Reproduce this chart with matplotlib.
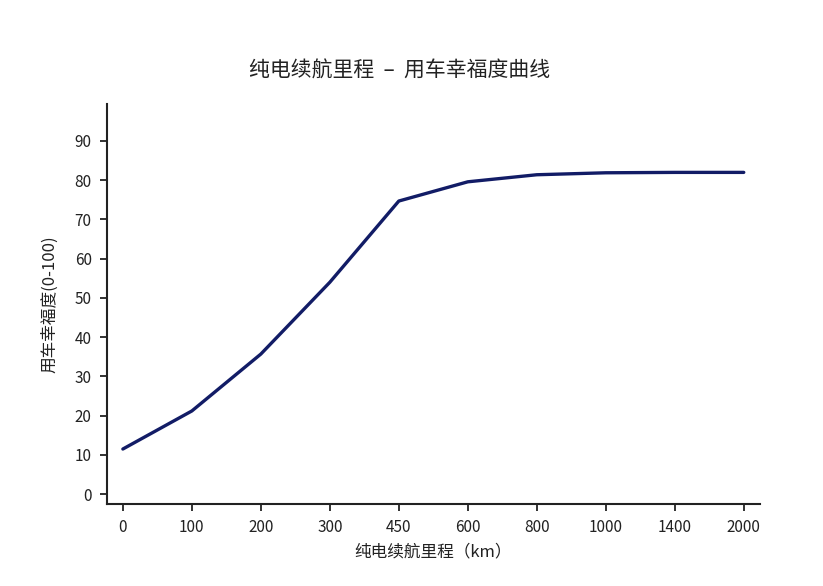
import matplotlib.pyplot as plt

plt.rcParams['font.family'] = ['Noto Sans CJK SC', 'DejaVu Sans']

# =========================
# DATA
# =========================
range_labels = ["0", "100", "200", "300", "450", "600", "800", "1000", "1400", "2000"]
happiness = [11.5, 21.2, 35.7, 54.0, 74.7, 79.6, 81.4, 81.9, 82.0, 82.0]
y_ticks = [0, 10, 20, 30, 40, 50, 60, 70, 80, 90]

line_color = "#121c66"
ink = "#222222"

fig = plt.figure(figsize=(8.23, 5.86), dpi=100)
ax = fig.add_axes([0.130, 0.140, 0.793, 0.683])

x = list(range(len(range_labels)))
ax.plot(x, happiness, color=line_color, linewidth=2.4,
        solid_joinstyle="round", solid_capstyle="round")

ax.set_xticks(x)
ax.set_xticklabels(range_labels)
ax.set_yticks(y_ticks)
ax.set_xlim(-0.23, len(range_labels) - 1 + 0.23)
ax.set_ylim(-2.5, 99.5)

for side in ["top", "right"]:
    ax.spines[side].set_visible(False)
for side in ["left", "bottom"]:
    ax.spines[side].set_linewidth(1.5)
    ax.spines[side].set_color(ink)

ax.tick_params(axis="both", direction="out", length=5, width=1.3,
               colors=ink, labelsize=11, pad=6)

ax.set_xlabel("纯电续航里程（km）", fontsize=12, color=ink, labelpad=5)
ax.set_ylabel("用车幸福度(0-100)", fontsize=12, color=ink, labelpad=12)

fig.text(0.485, 0.88, "纯电续航里程  –  用车幸福度曲线", ha="center", va="center",
         fontsize=15, color=ink)

fig.savefig("out.png", dpi=100, facecolor="white")
